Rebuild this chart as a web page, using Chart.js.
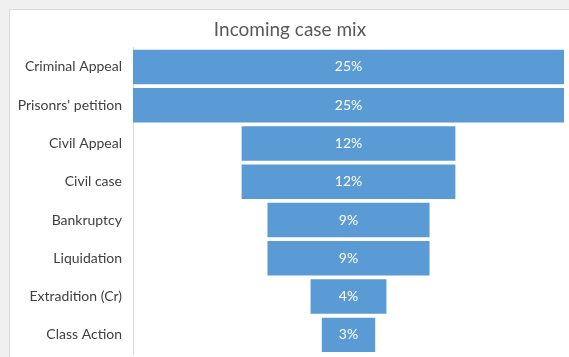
<!DOCTYPE html>
<html>
<head>
<meta charset="utf-8">
<script src="https://cdn.jsdelivr.net/npm/chart.js@4/dist/chart.umd.min.js"></script>
<style>
  body { margin: 0; background: #f0f0f0; width: 569px; height: 357px; overflow: hidden; position: relative; }
  #frame { position: absolute; left: 9px; top: 9px; width: 600px; height: 400px; background: #fff; border: 1px solid #d9d9d9; }
  #wrap { position: absolute; left: 0; top: 0; width: 569px; height: 357px; }
</style>
</head>
<body>
<div id="frame"></div>
<div id="wrap"><canvas id="mainChart"></canvas></div>
<script>
// funnel data, share of incoming cases in percent
const categories = ['Criminal Appeal', "Prisonrs' petition", 'Civil Appeal', 'Civil case',
    'Bankruptcy', 'Liquidation', 'Extradition (Cr)', 'Class Action'];
const shares = [25, 25, 12.4, 12.4, 9.4, 9.4, 4.4, 3.1];

// centre every bar on zero so the bars form a funnel
const floatingBars = shares.map((v) => [-v / 2, v / 2]);

// draw the percent text in the middle of each bar
const barLabels = {
    id: 'barLabels',
    afterDatasetsDraw(chart) {
        const ctx = chart.ctx;
        const meta = chart.getDatasetMeta(0);
        ctx.save();
        ctx.fillStyle = '#ffffff';
        ctx.font = '14px Lato';
        ctx.textAlign = 'center';
        ctx.textBaseline = 'middle';
        meta.data.forEach((bar, i) => {
            const cx = (bar.x + bar.base) / 2;
            ctx.fillText(Math.round(shares[i]) + '%', cx, bar.y);
        });
        ctx.restore();
    },
};

var ctx = document.getElementById('mainChart').getContext('2d');
var chart = new Chart(ctx, {
    type: 'bar',
    data: {
        labels: categories,
        datasets: [
            {
                data: floatingBars,
                backgroundColor: '#5b9bd5',
                barPercentage: 0.9,
                categoryPercentage: 1,
            },
        ],
    },
    options: {
        indexAxis: 'y',
        responsive: true,
        maintainAspectRatio: false,
        animation: false,
        devicePixelRatio: 1,
        layout: {
            padding: { left: 16, right: 5, top: 0, bottom: 3 },
        },
        plugins: {
            legend: { display: false },
            tooltip: { enabled: false },
            title: {
                display: true,
                text: 'Incoming case mix',
                color: '#595959',
                font: { family: 'Lato', size: 19, weight: 'normal' },
                padding: { top: 18, bottom: 7 },
            },
        },
        scales: {
            x: {
                display: false,
                min: -12.5,
                max: 12.5,
            },
            y: {
                grid: { display: false, drawTicks: false },
                border: { display: true, color: '#d9d9d9', width: 1 },
                ticks: {
                    color: '#404040',
                    font: { family: 'Lato', size: 14 },
                    padding: 11,
                },
                afterFit: (scale) => {
                    // fixed axis width, and no extra room above/below the rows
                    scale.width = 117;
                    scale.paddingTop = 0;
                    scale.paddingBottom = 0;
                },
            },
        },
    },
    plugins: [barLabels],
});
</script>
</body>
</html>
